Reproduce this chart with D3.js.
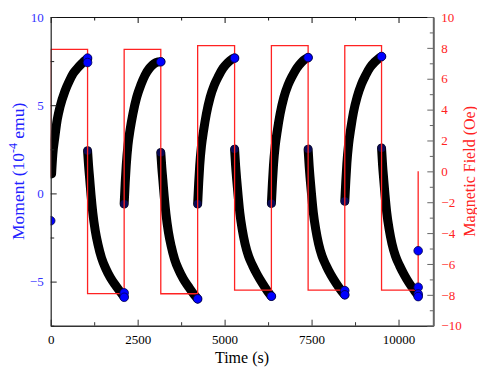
<!DOCTYPE html>
<html><head><meta charset="utf-8">
<script src="https://cdn.jsdelivr.net/npm/d3@7"></script>
<style>
body{margin:0;background:#fff}
svg{display:block}
text{font-family:"Liberation Serif","Times New Roman",serif}
</style>
</head><body>
<svg id="c" width="477" height="370"></svg>
<script>
// ---------- data ----------
// Magnetic field step sequence (Oe)
const fieldStepTimes = [0, 1060, 2112, 3165, 4225, 5287, 6345, 7401, 8455, 9512, 10565];
const fieldLevels = [7.9, -7.92, 7.9, -7.93, 8.15, -7.7, 8.15, -7.7, 8.15, -7.7];
const fieldStart = -0.35;
const fieldEnd = 0;

// Moment (1e-4 emu) relaxation segments
const rise1T = [25, 60, 120, 190, 267, 410, 530, 648, 770, 889, 1000, 1060];
const rise1M = [1.1, 2.2, 3.2, 4.2, 4.9, 5.8, 6.35, 6.8, 7.1, 7.35, 7.55, 7.62];
const fall1T = [1060, 1090, 1120, 1160, 1210, 1280, 1360, 1460, 1580, 1710, 1860, 2010, 2112];
const fall1M = [2.42, 1.55, 0.85, -0.1, -1.1, -2.1, -2.9, -3.65, -4.25, -4.75, -5.2, -5.6, -5.85];
const rise2T = [2112, 2142, 2172, 2222, 2282, 2362, 2472, 2592, 2712, 2842, 2972, 3092, 3165];
const rise2M = [-0.6, 0.6, 1.6, 2.75, 3.6, 4.5, 5.45, 6.15, 6.7, 7.1, 7.35, 7.45, 7.47];
const fall2T = [3165, 3195, 3225, 3265, 3315, 3385, 3465, 3565, 3685, 3815, 3965, 4115, 4225];
const fall2M = [2.32, 1.45, 0.75, -0.2, -1.2, -2.2, -3.0, -3.75, -4.35, -4.85, -5.3, -5.72, -5.98];
const rise3T = [4225, 4255, 4285, 4335, 4395, 4475, 4585, 4705, 4825, 4955, 5085, 5205, 5287];
const rise3M = [-0.6, 0.6, 1.6, 2.7, 3.55, 4.5, 5.45, 6.15, 6.65, 7.1, 7.4, 7.6, 7.67];
const fall3T = [5287, 5317, 5347, 5387, 5437, 5507, 5587, 5687, 5807, 5937, 6087, 6237, 6345];
const fall3M = [2.51, 1.55, 0.8, -0.1, -1.1, -2.05, -2.85, -3.55, -4.1, -4.6, -5.1, -5.55, -5.83];
const rise4T = [6345, 6375, 6405, 6455, 6515, 6595, 6705, 6825, 6945, 7075, 7205, 7325, 7401];
const rise4M = [-0.57, 0.6, 1.6, 2.7, 3.55, 4.5, 5.45, 6.15, 6.65, 7.1, 7.42, 7.62, 7.7];
const fall4T = [7401, 7431, 7461, 7501, 7551, 7621, 7701, 7801, 7921, 8051, 8201, 8351, 8455];
const fall4M = [2.51, 1.55, 0.8, -0.1, -1.1, -2.05, -2.85, -3.55, -4.1, -4.6, -5.08, -5.5, -5.75];
const rise5T = [8455, 8485, 8515, 8565, 8625, 8705, 8815, 8935, 9055, 9185, 9315, 9435, 9512];
const rise5M = [-0.45, 0.7, 1.7, 2.8, 3.65, 4.6, 5.5, 6.2, 6.7, 7.15, 7.45, 7.66, 7.76];
const fall5T = [9512, 9542, 9572, 9612, 9662, 9732, 9812, 9912, 10032, 10162, 10312, 10462, 10565];
const fall5M = [2.57, 1.6, 0.85, -0.1, -1.1, -2.05, -2.85, -3.55, -4.1, -4.6, -5.1, -5.52, -5.8];

// highlighted (blue) points
const blueTimes = [0, 1060, 1060, 2112, 2112, 3165, 4225, 5287, 6345, 7401, 8455, 8455, 9512, 10565, 10565, 10565, 10565];
const blueMoments = [-1.55, 7.67, 7.42, -5.64, -5.89, 7.46, -5.98, 7.67, -5.83, 7.7, -5.51, -5.75, 7.76, -3.25, -5.32, -5.7, -5.85];
// segment start markers (dark)
const startTimes = [1060, 2112, 3165, 4225, 5287, 6345, 7401, 8455, 9512];
const startMoments = [2.42, -0.6, 2.32, -0.6, 2.51, -0.57, 2.51, -0.45, 2.57];

// ticks
const xMajor = [0, 2500, 5000, 7500, 10000];
const xMinor = [1250, 3750, 6250, 8750];
const yLMajor = [-5, 0, 5, 10];
const yLMinor = [-7.5, -2.5, 2.5, 7.5];
const yRMajor = [-10, -8, -6, -4, -2, 0, 2, 4, 6, 8, 10];
const yRMinor = [-9, -7, -5, -3, -1, 1, 3, 5, 7, 9];

// ---------- layout ----------
const L = 50.7, R = 433.3, T = 17, B = 325.7;
const svg = d3.select("#c");
const x = d3.scaleLinear([0, 11000], [L, R]);
const yL = d3.scaleLinear([-7.5, 10], [B, T]);
const yR = d3.scaleLinear([-10, 10], [B, T]);

const blueC = "#3333ff", redC = "#ff2222";

svg.append("defs").append("clipPath").attr("id", "clip")
  .append("rect").attr("x", L).attr("y", T).attr("width", R - L).attr("height", B - T);

const plot = svg.append("g").attr("clip-path", "url(#clip)");

// black relaxation bands
const segs = [[rise1T, rise1M], [fall1T, fall1M], [rise2T, rise2M], [fall2T, fall2M], [rise3T, rise3M],
  [fall3T, fall3M], [rise4T, rise4M], [fall4T, fall4M], [rise5T, rise5M], [fall5T, fall5M]];
const mline = d3.line().x(d => x(d[0])).y(d => yL(d[1])).curve(d3.curveMonotoneX);
segs.forEach(([ts, ms]) => {
  plot.append("path").datum(ts.map((t, i) => [t, ms[i]]))
    .attr("d", mline).attr("fill", "none").attr("stroke", "#000")
    .attr("stroke-width", 9).attr("stroke-linecap", "round").attr("stroke-linejoin", "round");
});

// start markers
plot.selectAll(".sm").data(startTimes.map((t, i) => [t, startMoments[i]])).join("circle")
  .attr("cx", d => x(d[0])).attr("cy", d => yL(d[1])).attr("r", 4)
  .attr("fill", "#0b0b66").attr("opacity", 0.8);

// field step line
const fpts = [[0, fieldStart]];
fieldLevels.forEach((v, i) => { fpts.push([fieldStepTimes[i], v]); fpts.push([fieldStepTimes[i + 1], v]); });
fpts.push([fieldStepTimes[fieldStepTimes.length - 1], fieldEnd]);
plot.append("path").datum(fpts)
  .attr("d", d3.line().x(d => x(d[0])).y(d => yR(d[1])))
  .attr("fill", "none").attr("stroke", redC).attr("stroke-width", 1.3);

// blue points
plot.selectAll(".bp").data(blueTimes.map((t, i) => [t, blueMoments[i]])).join("circle")
  .attr("cx", d => x(d[0])).attr("cy", d => yL(d[1])).attr("r", 4.3)
  .attr("fill", "#0000ff").attr("stroke", "#00004a").attr("stroke-width", 0.8);

// ---------- axes ----------
function styleAxis(g, lineColor, lw, textColor) {
  g.select(".domain").attr("stroke", lineColor).attr("stroke-width", lw);
  g.selectAll(".tick line").attr("stroke", lineColor).attr("stroke-width", 1);
  g.selectAll(".tick text").attr("fill", textColor).style("font-size", "13px")
    .style("font-family", '"Liberation Serif","Times New Roman",serif');
}
// bottom
const gb = svg.append("g").attr("transform", `translate(0,${B})`)
  .call(d3.axisBottom(x).tickValues(xMajor).tickSizeInner(-6).tickSizeOuter(0).tickPadding(9).tickFormat(d3.format("d")));
styleAxis(gb, "#333", 1.5, "#000");
const gbm = svg.append("g").attr("transform", `translate(0,${B})`)
  .call(d3.axisBottom(x).tickValues(xMinor).tickSizeInner(-3.5).tickSizeOuter(0).tickFormat(""));
gbm.select(".domain").remove(); gbm.selectAll(".tick line").attr("stroke", "#333");
// top
const gt = svg.append("g").attr("transform", `translate(0,${T})`)
  .call(d3.axisTop(x).tickValues(xMajor).tickSizeInner(-6).tickSizeOuter(0).tickFormat(""));
styleAxis(gt, "#111", 1.2, "#000");
const gtm = svg.append("g").attr("transform", `translate(0,${T})`)
  .call(d3.axisTop(x).tickValues(xMinor).tickSizeInner(-3.5).tickSizeOuter(0).tickFormat(""));
gtm.select(".domain").remove(); gtm.selectAll(".tick line").attr("stroke", "#111");
// left
const gl = svg.append("g").attr("transform", `translate(${L},0)`)
  .call(d3.axisLeft(yL).tickValues(yLMajor).tickSizeInner(-6).tickSizeOuter(0).tickPadding(7).tickFormat(d3.format("d")));
styleAxis(gl, "#222", 1.2, blueC);
const glm = svg.append("g").attr("transform", `translate(${L},0)`)
  .call(d3.axisLeft(yL).tickValues(yLMinor).tickSizeInner(-3.5).tickSizeOuter(0).tickFormat(""));
glm.select(".domain").remove(); glm.selectAll(".tick line").attr("stroke", "#222");
// right
const gr = svg.append("g").attr("transform", `translate(${R},0)`)
  .call(d3.axisRight(yR).tickValues(yRMajor).tickSizeInner(-6).tickSizeOuter(0).tickPadding(8).tickFormat(d3.format("d")));
styleAxis(gr, "#666", 2, redC);
const grm = svg.append("g").attr("transform", `translate(${R},0)`)
  .call(d3.axisRight(yR).tickValues(yRMinor).tickSizeInner(-3.5).tickSizeOuter(0).tickFormat(""));
grm.select(".domain").remove(); grm.selectAll(".tick line").attr("stroke", "#666");

// ---------- titles ----------
svg.append("text").attr("x", (L + R) / 2).attr("y", 363).attr("text-anchor", "middle")
  .style("font-size", "16px").attr("fill", "#000").text("Time (s)");

const lt = svg.append("text").attr("transform", `translate(24,${(T + B) / 2}) rotate(-90)`)
  .attr("text-anchor", "middle").style("font-size", "17.5px").attr("fill", "#2222ff");
lt.append("tspan").text("Moment (10");
lt.append("tspan").attr("dy", -7).style("font-size", "12px").text("-4");
lt.append("tspan").attr("dy", 7).text(" emu)");

svg.append("text").attr("transform", `translate(475,${(T + B) / 2}) rotate(-90)`)
  .attr("text-anchor", "middle").style("font-size", "16px").attr("fill", redC).text("Magnetic Field (Oe)");
</script>
</body></html>
